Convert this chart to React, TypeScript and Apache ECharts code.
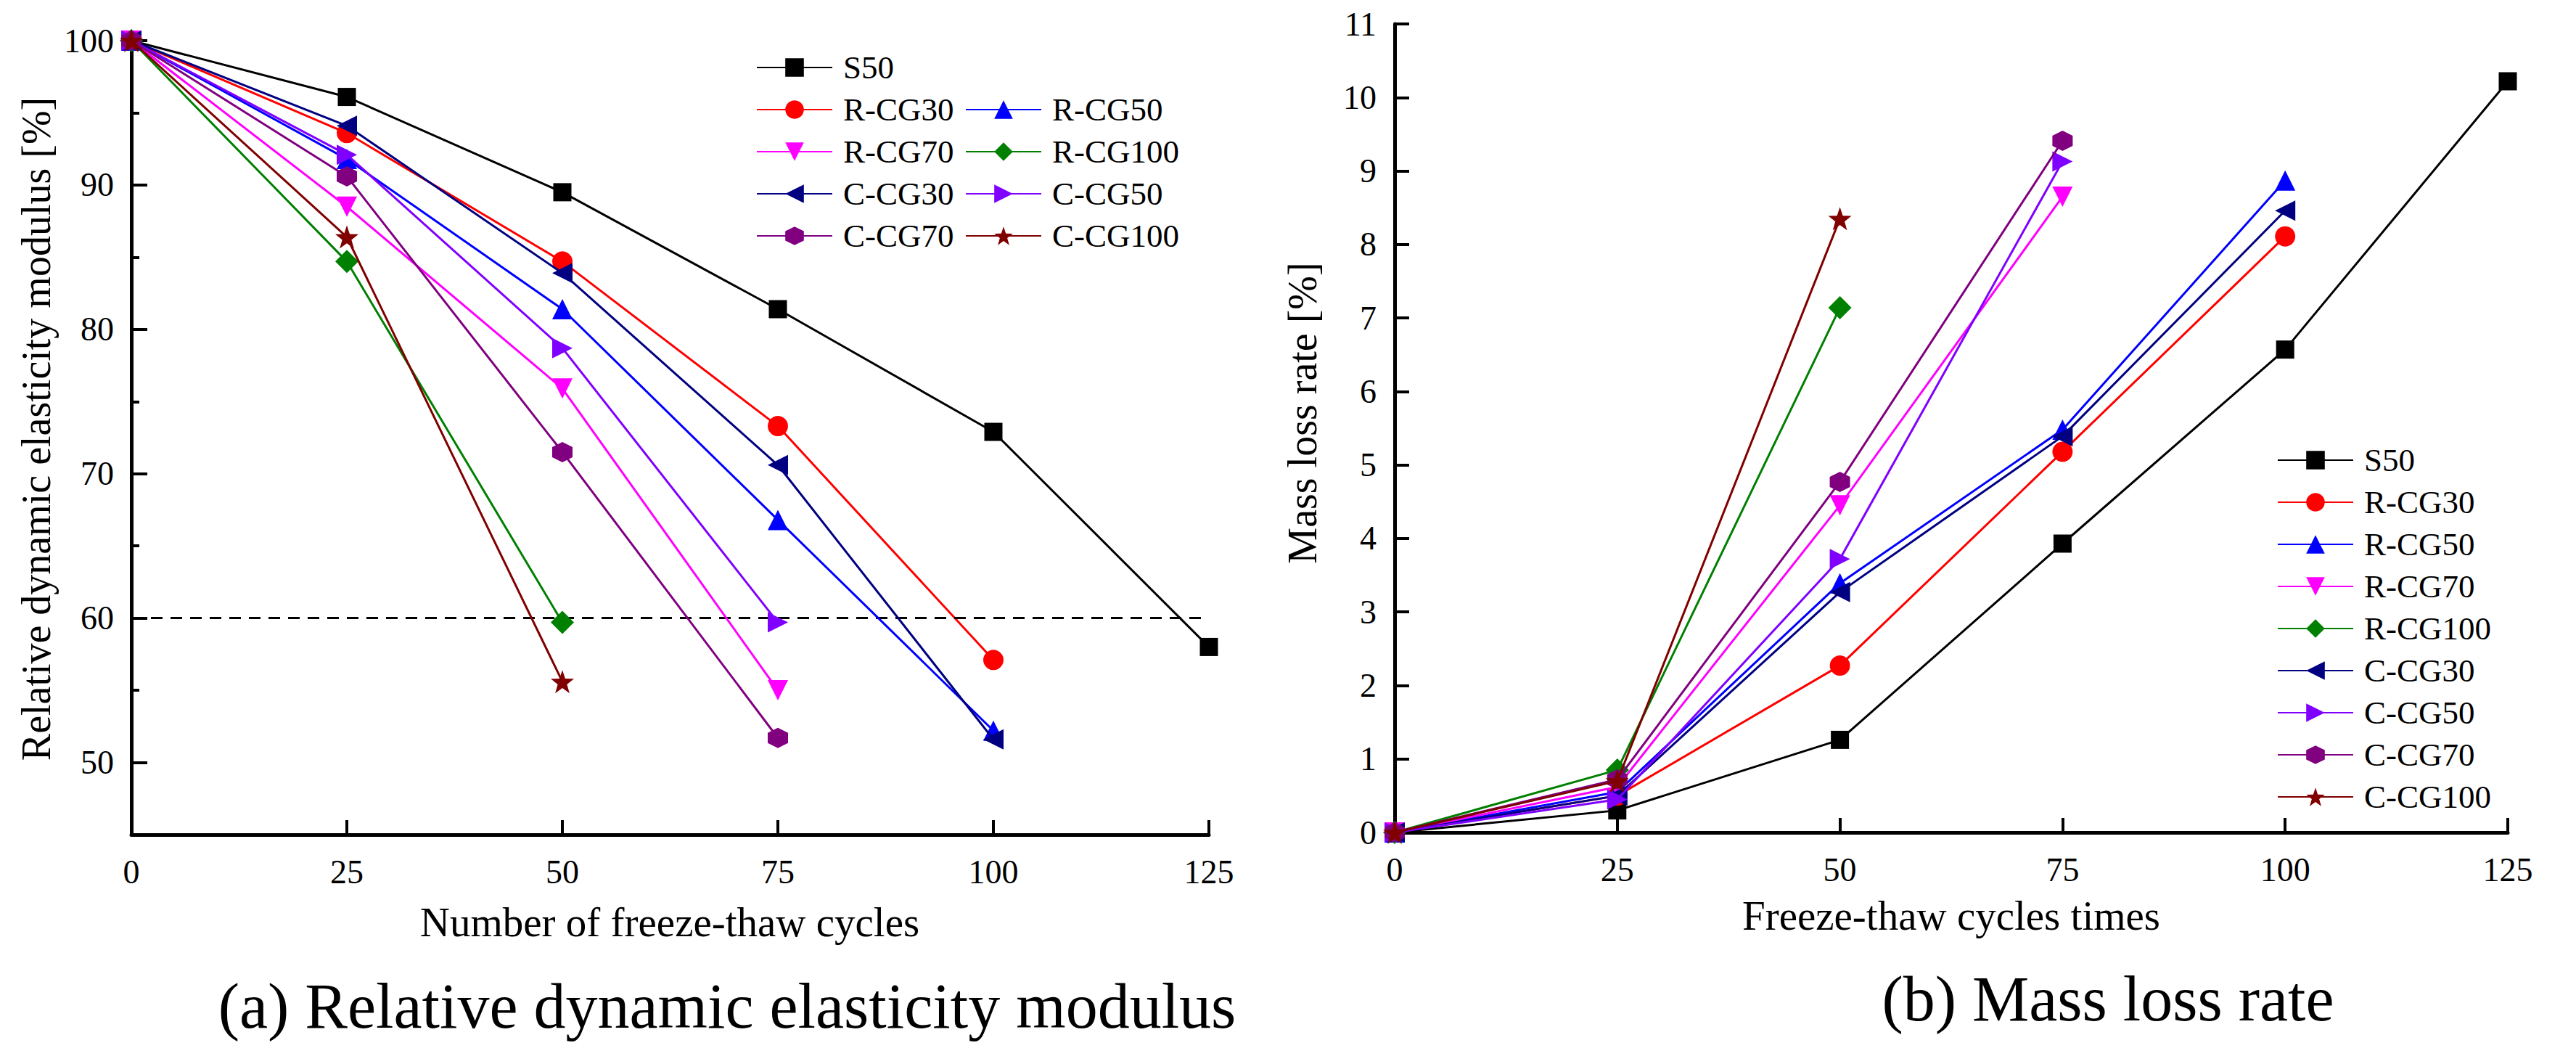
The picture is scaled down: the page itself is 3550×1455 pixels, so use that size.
import React, { useEffect, useRef } from "react";
import * as echarts from "echarts";

const cycles = [0, 25, 50, 75, 100, 125];
const seriesNames = ["S50", "R-CG30", "R-CG50", "R-CG70", "R-CG100", "C-CG30", "C-CG50", "C-CG70", "C-CG100"];
const seriesColors = ["#000000", "#FF0000", "#0000FF", "#FF00FF", "#008000", "#000080", "#8000FF", "#800080", "#800000"];

// (a) Relative dynamic elasticity modulus [%]
const modS50 = [100, 96.1, 89.5, 81.4, 72.9, 58.0];
const modRCG30 = [100, 93.6, 84.7, 73.3, 57.1];
const modRCG50 = [100, 91.8, 81.4, 66.8, 52.2];
const modRCG70 = [100, 88.5, 75.9, 55.0];
const modRCG100 = [100, 84.7, 59.7];
const modCCG30 = [100, 94.1, 83.9, 70.6, 51.6];
const modCCG50 = [100, 92.1, 78.7, 59.7];
const modCCG70 = [100, 90.6, 71.5, 51.7];
const modCCG100 = [100, 86.4, 55.6];

// (b) Mass loss rate [%]
const lossS50 = [0, 0.3, 1.26, 3.93, 6.57, 10.22];
const lossRCG30 = [0, 0.5, 2.27, 5.18, 8.11];
const lossRCG50 = [0, 0.55, 3.39, 5.48, 8.87];
const lossRCG70 = [0, 0.62, 4.45, 8.65];
const lossRCG100 = [0, 0.85, 7.14];
const lossCCG30 = [0, 0.5, 3.27, 5.39, 8.46];
const lossCCG50 = [0, 0.45, 3.72, 9.13];
const lossCCG70 = [0, 0.72, 4.77, 9.41];
const lossCCG100 = [0, 0.7, 8.35];

const modulusData = [modS50, modRCG30, modRCG50, modRCG70, modRCG100, modCCG30, modCCG50, modCCG70, modCCG100];
const lossData = [lossS50, lossRCG30, lossRCG50, lossRCG70, lossRCG100, lossCCG30, lossCCG50, lossCCG70, lossCCG100];

const modulusLabelTicks = [50, 60, 70, 80, 90, 100];
const modulusMinorTicks = [55, 65, 75, 85, 95];
const thresholdValue = 60;

const FONT = "Liberation Serif";

const symbols = [
  "rect",
  "circle",
  "triangle",
  "path://M0,0L10,0L5,9Z",
  "diamond",
  "path://M0,5L9,0L9,10Z",
  "path://M0,0L9,5L0,10Z",
  "path://M5,0L9.33,2.5L9.33,7.5L5,10L0.67,7.5L0.67,2.5Z",
  "path://M5,0L6.18,3.38L9.76,3.45L6.9,5.62L7.94,9.05L5,7L2.06,9.05L3.1,5.62L0.24,3.45L3.82,3.38Z",
];
const symbolSizes = [25, 28, 28, 28, 32, 28, 28, 28, 32];

export default function App() {
  const ref = useRef<HTMLDivElement>(null);

  useEffect(() => {
    document.body.style.margin = "0";
    if (!ref.current) return;
    const chart = echarts.init(ref.current, undefined, { renderer: "svg" });

    const axisLabelStyle = { color: "#000", fontFamily: FONT, fontSize: 46 };
    const axisLineStyle = { lineStyle: { color: "#000", width: 5 } };

    const series: any[] = [];
    seriesNames.forEach((name, i) => {
      const common = {
        name,
        type: "line",
        symbol: symbols[i],
        symbolSize: symbolSizes[i],
        showSymbol: true,
        lineStyle: { color: seriesColors[i], width: 3 },
        itemStyle: { color: seriesColors[i] },
        z: 3 + i,
      };
      const left: any = {
        ...common,
        xAxisIndex: 0,
        yAxisIndex: 0,
        data: modulusData[i].map((v, k) => [cycles[k], v]),
      };
      if (i === 0) {
        left.markLine = {
          silent: true,
          symbol: ["none", "none"],
          label: { show: false },
          lineStyle: { color: "#000", width: 3, type: [16, 11] },
          data: [{ yAxis: thresholdValue }],
        };
      }
      series.push(left);
      series.push({
        ...common,
        xAxisIndex: 1,
        yAxisIndex: 2,
        data: lossData[i].map((v, k) => [cycles[k], v]),
      });
    });

    const legendBase = {
      orient: "vertical",
      padding: 0,
      itemWidth: 104,
      itemHeight: 32,
      itemGap: 12,
      selectedMode: false,
      textStyle: { color: "#000", fontFamily: FONT, fontSize: 45, lineHeight: 46, padding: [0, 0, 0, 10] },
    };

    const option: any = {
      animation: false,
      backgroundColor: "#fff",
      grid: [
        { left: 181, top: 56, width: 1485, height: 1094 },
        { left: 1922, top: 33, width: 1534, height: 1114 },
      ],
      xAxis: [
        {
          type: "value",
          gridIndex: 0,
          min: 0,
          max: 125,
          interval: 25,
          axisLine: axisLineStyle,
          axisTick: { inside: true, length: 20, lineStyle: { color: "#000", width: 4 } },
          axisLabel: { ...axisLabelStyle, margin: 28 },
          splitLine: { show: false },
        },
        {
          type: "value",
          gridIndex: 1,
          min: 0,
          max: 125,
          interval: 25,
          axisLine: { onZero: false, ...axisLineStyle },
          axisTick: { inside: true, length: 20, lineStyle: { color: "#000", width: 4 } },
          axisLabel: { ...axisLabelStyle, margin: 28 },
          splitLine: { show: false },
        },
      ],
      yAxis: [
        {
          type: "value",
          gridIndex: 0,
          min: 45,
          max: 100,
          interval: 5,
          axisLine: axisLineStyle,
          axisTick: { inside: true, length: 22, customValues: modulusLabelTicks, lineStyle: { color: "#000", width: 4 } },
          axisLabel: { ...axisLabelStyle, margin: 24, customValues: modulusLabelTicks },
          splitLine: { show: false },
        },
        {
          type: "value",
          gridIndex: 0,
          position: "left",
          min: 45,
          max: 100,
          interval: 5,
          axisLine: { show: false },
          axisTick: { inside: true, length: 11, customValues: modulusMinorTicks, lineStyle: { color: "#000", width: 4 } },
          axisLabel: { show: false },
          splitLine: { show: false },
        },
        {
          type: "value",
          gridIndex: 1,
          min: 0,
          max: 11,
          interval: 1,
          axisLine: axisLineStyle,
          axisTick: { inside: true, length: 20, lineStyle: { color: "#000", width: 4 } },
          axisLabel: { ...axisLabelStyle, margin: 25 },
          splitLine: { show: false },
        },
      ],
      legend: [
        { ...legendBase, left: 1042, top: 70, data: ["S50", "R-CG30", "R-CG70", "C-CG30", "C-CG70"] },
        { ...legendBase, left: 1330, top: 128, data: ["R-CG50", "R-CG100", "C-CG50", "C-CG100"] },
        { ...legendBase, left: 3138, top: 611, data: seriesNames },
      ],
      graphic: [
        {
          type: "text",
          x: 50,
          y: 591,
          rotation: Math.PI / 2,
          style: { text: "Relative dynamic elasticity modulus [%]", fontFamily: FONT, fontSize: 56, fill: "#000", textAlign: "center", textVerticalAlign: "middle" },
        },
        {
          type: "text",
          x: 923,
          y: 1270,
          style: { text: "Number of freeze-thaw cycles", fontFamily: FONT, fontSize: 57, fill: "#000", textAlign: "center", textVerticalAlign: "middle" },
        },
        {
          type: "text",
          x: 1002,
          y: 1386,
          style: { text: "(a) Relative dynamic elasticity modulus", fontFamily: FONT, fontSize: 88, fill: "#000", textAlign: "center", textVerticalAlign: "middle" },
        },
        {
          type: "text",
          x: 1795,
          y: 569,
          rotation: Math.PI / 2,
          style: { text: "Mass loss rate [%]", fontFamily: FONT, fontSize: 56, fill: "#000", textAlign: "center", textVerticalAlign: "middle" },
        },
        {
          type: "text",
          x: 2689,
          y: 1261,
          style: { text: "Freeze-thaw cycles times", fontFamily: FONT, fontSize: 57, fill: "#000", textAlign: "center", textVerticalAlign: "middle" },
        },
        {
          type: "text",
          x: 2905,
          y: 1376,
          style: { text: "(b) Mass loss rate", fontFamily: FONT, fontSize: 88, fill: "#000", textAlign: "center", textVerticalAlign: "middle" },
        },
      ],
      series,
    };

    chart.setOption(option);
    return () => chart.dispose();
  }, []);

  return <div ref={ref} style={{ width: 3550, height: 1455 }} />;
}
